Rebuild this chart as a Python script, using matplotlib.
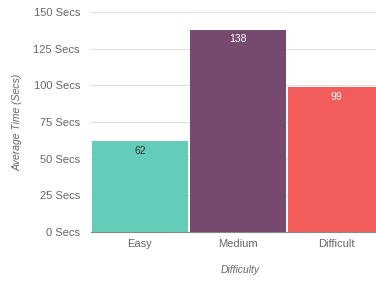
import matplotlib
matplotlib.use("Agg")
from matplotlib import pyplot as plt

categories = ["Easy", "Medium", "Difficult"]
avg_time = [62, 138, 99]
bar_colors = ["#63CDBA", "#764A6E", "#F25C5A"]
label_colors = ["#333333", "#ffffff", "#ffffff"]
yticks = [0, 25, 50, 75, 100, 125, 150]

plt.rcParams['font.family'] = ['Liberation Sans', 'DejaVu Sans']

W, H = 376, 283
fig = plt.figure(figsize=(W / 100, H / 100), dpi=100)
# axes run off the right edge like the reference crop
left, right = 91, 385
top, bottom = 12, 232
ax = fig.add_axes([left / W, 1 - bottom / H, (right - left) / W, (bottom - top) / H])

x = range(len(categories))
ax.bar(x, avg_time, width=0.97, color=bar_colors, zorder=2)
for i, v in enumerate(avg_time):
    ax.annotate(str(v), (i, v), xytext=(0, -7), textcoords="offset points",
                ha="center", va="center", fontsize=7.5, color=label_colors[i], zorder=3)

ax.set_xlim(-0.5, 2.5)
ax.set_ylim(0, 150)
ax.set_yticks(yticks)
ax.set_yticklabels([f"{t} Secs" for t in yticks])
ax.set_xticks(list(x))
ax.set_xticklabels(categories)
ax.tick_params(axis="both", length=0, labelsize=8, labelcolor="#666666")
ax.tick_params(axis="y", pad=8)
ax.tick_params(axis="x", pad=5)
ax.grid(axis="y", color="#e0e0e0", linewidth=0.8, zorder=0)
for s in ["top", "right", "left"]:
    ax.spines[s].set_visible(False)
ax.spines["bottom"].set_color("#888888")
ax.spines["bottom"].set_linewidth(0.8)
ax.spines["bottom"].set_zorder(3)

fig.text(18 / W, 1 - 122 / H, "Average Time (Secs)", rotation=90, ha="center", va="center",
         fontsize=7.5, style="italic", color="#666666")
fig.text(240 / W, 1 - 270 / H, "Difficulty", ha="center", va="center",
         fontsize=7.5, style="italic", color="#666666")

fig.savefig("out.png", dpi=100)
